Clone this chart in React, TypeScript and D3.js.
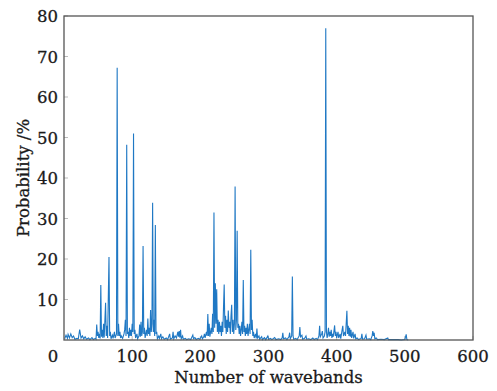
import React, { useEffect, useRef } from "react";
import * as d3 from "d3";

// Waveband index (x) and selection probability in % (y), vertex by vertex
const bands: number[] = [
  1, 3, 5, 6, 8, 10, 12, 14, 16, 19, 21, 23, 25, 27, 29, 31, 33, 36, 38, 41, 43, 46, 47, 48, 49, 50,
  51, 52, 53, 54, 55, 56, 57, 58, 59, 61, 62, 63, 64, 66, 67, 68, 69, 71, 72, 74, 75, 77, 78, 79, 80,
  81, 82, 83, 84, 86, 88, 89, 90, 91, 92, 93, 94, 95, 96, 97, 98, 99, 100, 101, 102, 103, 104, 105,
  107, 108, 110, 111, 112, 113, 114, 115, 116, 117, 118, 119, 121, 122, 123, 124, 125, 126, 127, 128,
  129, 130, 131, 132, 133, 134, 135, 136, 137, 139, 140, 142, 143, 145, 147, 150, 152, 155, 156, 159,
  160, 161, 163, 165, 167, 168, 169, 170, 171, 172, 174, 175, 178, 180, 183, 186, 189, 190, 192, 194,
  197, 199, 202, 203, 205, 206, 207, 209, 210, 211, 212, 213, 214, 216, 217, 218, 219, 220, 221, 222,
  223, 224, 225, 226, 227, 228, 229, 230, 231, 232, 233, 234, 235, 236, 237, 238, 239, 240, 241, 242,
  243, 244, 245, 246, 247, 248, 249, 250, 251, 252, 253, 254, 255, 256, 257, 258, 259, 260, 261, 262,
  263, 264, 265, 266, 267, 268, 269, 270, 271, 272, 273, 274, 275, 276, 277, 278, 279, 281, 282, 283,
  284, 286, 287, 290, 291, 294, 296, 299, 300, 303, 305, 309, 311, 315, 318, 320, 321, 322, 325, 327,
  330, 331, 332, 334, 335, 336, 337, 340, 342, 345, 346, 347, 349, 350, 353, 355, 356, 359, 362, 365,
  367, 370, 372, 374, 375, 376, 378, 379, 380, 382, 383, 384, 385, 386, 387, 388, 389, 390, 391, 392,
  393, 394, 395, 397, 398, 399, 400, 402, 403, 405, 406, 408, 409, 410, 412, 413, 415, 416, 417, 418,
  419, 420, 421, 422, 424, 425, 427, 428, 430, 432, 436, 437, 438, 441, 443, 444, 448, 450, 452, 453,
  454, 455, 456, 458, 460, 465, 470, 475, 476, 480, 490, 495, 500, 502, 503, 505,
];

const probability: number[] = [
  0.3, 1.2, 0.4, 1.4, 0.5, 1.5, 0.6, 1.0, 0.2, 0.4, 0.3, 2.6, 0.5, 1.0, 0.3, 0.8, 0.2, 0.5, 0.1, 0.6, 0.1, 0.4, 0.2, 3.8, 1.0, 2.0,
  0.5, 1.5, 0.4, 13.6, 0.8, 2.5, 0.5, 4.0, 0.6, 9.2, 1.0, 3.5, 0.5, 20.5, 1.0, 2.0, 0.3, 1.2, 0.4, 2.0, 0.5, 1.5, 67.2, 1.0, 4.0,
  1.0, 2.0, 0.5, 1.0, 0.4, 1.5, 2.5, 5.0, 1.0, 48.2, 1.5, 2.0, 0.5, 3.0, 1.0, 2.5, 1.0, 4.0, 2.0, 51.0, 1.5, 2.5, 0.5,
  1.5, 0.3, 1.0, 3.8, 0.8, 4.5, 1.0, 2.0, 23.2, 1.5, 3.0, 0.5, 2.5, 1.0, 5.3, 1.5, 3.0, 1.0, 7.4, 2.0,
  4.0, 33.9, 2.0, 5.0, 1.0, 28.4, 1.5, 2.0, 0.3, 1.0, 0.4, 1.5, 0.3, 0.8, 0.2, 0.5, 0.1, 1.5, 0.2, 0.5,
  2.0, 0.3, 1.0, 0.5, 2.0, 0.8, 2.2, 0.6, 2.5, 0.3, 1.0, 0.2, 0.4, 0.1, 0.3, 0.1, 1.2, 0.3, 0.6, 0.1,
  0.4, 0.2, 1.0, 0.3, 0.8, 1.5, 0.5, 2.0, 1.0, 6.4, 1.0, 4.0, 0.8, 3.0, 1.5, 6.5, 2.0, 31.5, 3.0, 14.0,
  4.0, 12.5, 2.0, 5.0, 1.5, 4.5, 2.0, 3.5, 1.0, 4.5, 2.0, 8.0, 13.7, 3.0, 6.0, 1.5, 5.0, 2.0, 7.3, 3.0,
  4.5, 1.5, 6.0, 8.7, 2.0, 5.0, 1.5, 4.0, 37.9, 2.5, 5.0, 27.0, 3.0, 4.0, 1.5, 3.5, 1.0, 2.5, 4.5, 1.5,
  14.8, 2.0, 3.5, 1.0, 3.0, 1.5, 4.0, 1.0, 2.5, 4.0, 1.5, 22.3, 2.5, 5.0, 1.0, 2.0, 0.5, 1.5, 0.4, 2.8,
  0.5, 1.0, 0.2, 0.8, 0.1, 0.6, 0.1, 1.0, 0.2, 0.4, 0.1, 0.6, 0.1, 0.3, 0.1, 0.5, 1.8, 0.3, 0.5, 0.1,
  0.8, 1.8, 0.3, 1.0, 15.7, 1.0, 0.2, 0.4, 0.1, 1.0, 3.2, 0.8, 1.2, 0.2, 0.4, 1.0, 0.2, 0.3, 0.1, 0.5,
  0.1, 0.4, 0.1, 1.0, 3.5, 0.8, 1.5, 2.2, 0.5, 1.0, 2.0, 77.0, 2.0, 0.5, 1.5, 3.0, 0.8, 2.0, 1.0, 2.5,
  0.5, 1.5, 0.8, 3.6, 1.0, 2.0, 0.5, 2.0, 0.5, 1.5, 0.3, 2.5, 3.5, 1.0, 2.0, 1.0, 7.2, 1.5, 3.5, 1.0,
  3.0, 0.8, 2.5, 0.5, 2.0, 0.4, 1.5, 0.3, 0.5, 0.1, 0.4, 1.5, 0.2, 0.3, 1.2, 0.2, 0.3, 0.1, 1.0, 2.2,
  1.0, 1.8, 0.3, 0.5, 0.1, 0.2, 0.1, 0.5, 0.1, 0.1, 0.1, 0.0, 0.1, 1.4, 0.1, 0.0,
];

const xTicks: number[] = [100, 200, 300, 400, 500, 600];
const yTicks: number[] = [10, 20, 30, 40, 50, 60, 70, 80];

const W = 497;
const H = 391;
const margin = { left: 64, right: 24, top: 16, bottom: 51 };
const FONT = "'DejaVu Serif', serif";
const INK = "#1a1a1a";

export default function App() {
  const ref = useRef<SVGSVGElement | null>(null);

  useEffect(() => {
    const svg = d3.select(ref.current);
    svg.selectAll("*").remove();

    const x = d3.scaleLinear().domain([0, 600]).range([margin.left, W - margin.right]);
    const y = d3.scaleLinear().domain([0, 80]).range([H - margin.bottom, margin.top]);

    const x0 = x(0), x1 = x(600), y0 = y(0), y1 = y(80);

    // inward tick marks
    const g = svg.append("g");
    g.selectAll("line.yt")
      .data(yTicks)
      .join("line")
      .attr("x1", x0)
      .attr("x2", x0 + 4)
      .attr("y1", (d) => y(d))
      .attr("y2", (d) => y(d))
      .attr("stroke", "#bbb")
      .attr("stroke-width", 1);
    g.selectAll("line.xt")
      .data(xTicks)
      .join("line")
      .attr("x1", (d) => x(d))
      .attr("x2", (d) => x(d))
      .attr("y1", y0)
      .attr("y2", y0 - 4)
      .attr("stroke", "#bbb")
      .attr("stroke-width", 1);

    // spectrum trace
    const pts: [number, number][] = bands.map((b, i) => [b, probability[i]]);
    const line = d3
      .line<[number, number]>()
      .x((d) => x(d[0]))
      .y((d) => y(d[1]));
    svg
      .append("path")
      .datum(pts)
      .attr("d", line)
      .attr("fill", "none")
      .attr("stroke", "#1f78c4")
      .attr("stroke-width", 1.1)
      .attr("stroke-linejoin", "miter");

    // axes frame
    svg
      .append("rect")
      .attr("x", x0)
      .attr("y", y1)
      .attr("width", x1 - x0)
      .attr("height", y0 - y1)
      .attr("fill", "none")
      .attr("stroke", "#555")
      .attr("stroke-width", 1.3);

    const label = (sel: d3.Selection<any, any, any, any>) =>
      sel
        .attr("font-family", FONT)
        .attr("font-size", 16.5)
        .attr("fill", INK)
        .attr("stroke", INK)
        .attr("stroke-width", 0.3);

    // tick labels
    svg
      .selectAll("text.xl")
      .data(xTicks)
      .join("text")
      .attr("x", (d) => x(d))
      .attr("y", y0 + 22)
      .attr("text-anchor", "middle")
      .call(label)
      .text((d) => d);
    svg
      .selectAll("text.yl")
      .data(yTicks)
      .join("text")
      .attr("x", x0 - 6)
      .attr("y", (d) => y(d) + 6)
      .attr("text-anchor", "end")
      .call(label)
      .text((d) => d);
    // shared origin label
    svg
      .append("text")
      .attr("x", x0 - 11)
      .attr("y", y0 + 22)
      .attr("text-anchor", "middle")
      .call(label)
      .text("0");

    // axis titles
    svg
      .append("text")
      .attr("x", (x0 + x1) / 2)
      .attr("y", H - 8)
      .attr("text-anchor", "middle")
      .call(label)
      .text("Number of wavebands");
    svg
      .append("text")
      .attr("transform", `translate(29, ${(y0 + y1) / 2}) rotate(-90)`)
      .attr("text-anchor", "middle")
      .call(label)
      .text("Probability /%");
  }, []);

  return (
    <svg
      ref={ref}
      width={W}
      height={H}
      style={{ position: "absolute", left: 0, top: 0, background: "#fff" }}
    />
  );
}
